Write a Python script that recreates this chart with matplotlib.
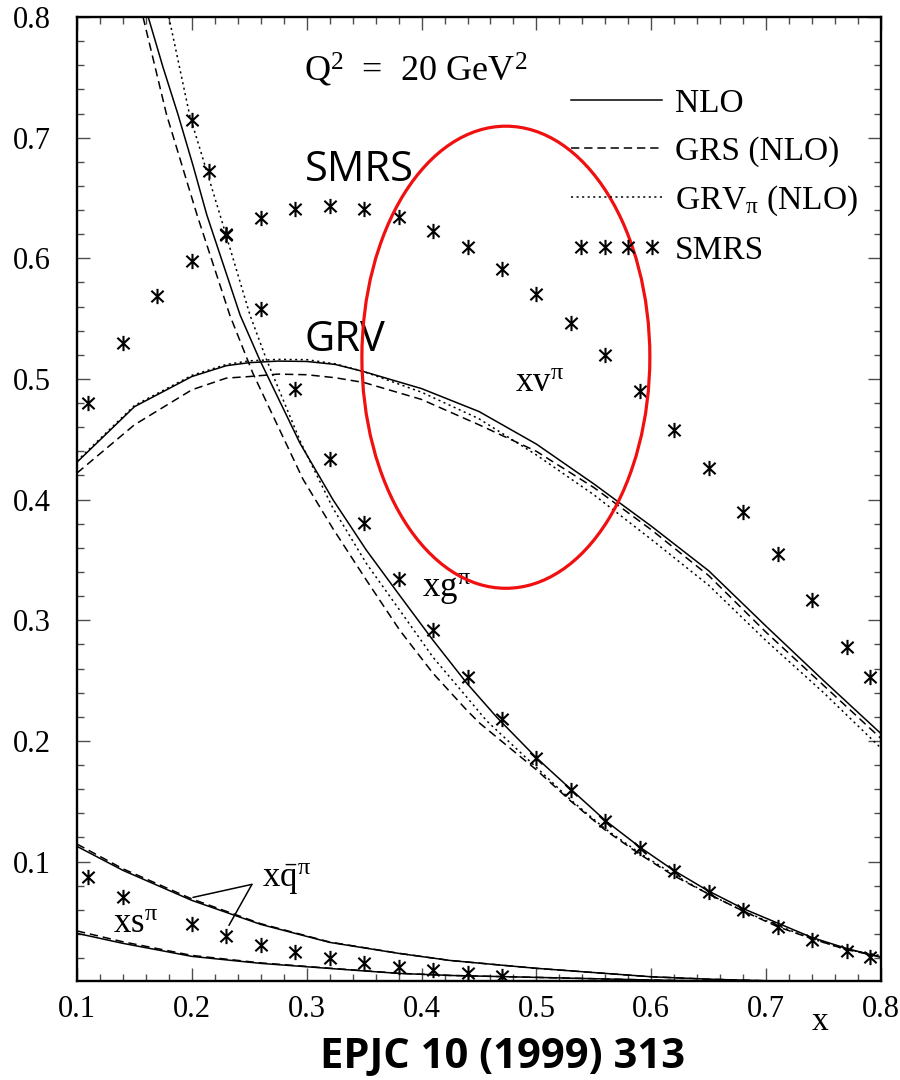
import matplotlib
matplotlib.use("Agg")
import matplotlib.pyplot as plt
from matplotlib.patches import Ellipse
from matplotlib.path import Path
from matplotlib.ticker import MultipleLocator
from matplotlib.legend_handler import HandlerLine2D

plt.rcParams['font.family'] = ['Liberation Serif', 'DejaVu Serif']
plt.rcParams['mathtext.fontset'] = 'custom'
plt.rcParams['mathtext.rm'] = 'Liberation Serif'
plt.rcParams['mathtext.it'] = 'Liberation Serif:italic'
plt.rcParams['lines.scale_dashes'] = False

# valence xv^pi
x_val = [0.10, 0.15, 0.20, 0.23, 0.25, 0.275, 0.30, 0.325, 0.35, 0.40, 0.45, 0.50, 0.55, 0.60, 0.65, 0.70, 0.75, 0.80]
val_nlo = [0.431, 0.477, 0.502, 0.511, 0.5135, 0.5148, 0.5145, 0.512, 0.506, 0.492, 0.473, 0.446, 0.413, 0.378, 0.341, 0.295, 0.250, 0.206]
val_grs = [0.422, 0.462, 0.491, 0.5007, 0.502, 0.504, 0.5035, 0.501, 0.497, 0.483, 0.462, 0.440, 0.410, 0.375, 0.337, 0.290, 0.246, 0.202]
val_grv = [0.432, 0.478, 0.503, 0.512, 0.515, 0.5162, 0.516, 0.5125, 0.506, 0.489, 0.467, 0.437, 0.404, 0.367, 0.329, 0.283, 0.240, 0.194]

# gluon xg^pi, each curve with its own x points (steep part)
x_glu_nlo = [0.162, 0.175, 0.188, 0.201, 0.213, 0.242, 0.259, 0.2941, 0.3228, 0.352, 0.381, 0.410,
             0.4394, 0.4655, 0.500, 0.531, 0.560, 0.590, 0.619, 0.649, 0.680, 0.710, 0.740, 0.770, 0.800]
glu_nlo = [0.800, 0.758, 0.719, 0.677, 0.636, 0.553, 0.516, 0.4468, 0.400, 0.358, 0.3205, 0.2834,
           0.2478, 0.2196, 0.186, 0.159, 0.134, 0.112, 0.093, 0.076, 0.061, 0.049, 0.037, 0.028, 0.0206]
x_glu_grs = [0.1575, 0.178, 0.2045, 0.233, 0.253, 0.2967, 0.3228, 0.352, 0.381, 0.410, 0.4394, 0.4507,
             0.500, 0.530, 0.560, 0.590, 0.620, 0.650, 0.680, 0.710, 0.740, 0.770, 0.800]
glu_grs = [0.800, 0.719, 0.636, 0.553, 0.505, 0.417, 0.376, 0.3332, 0.2917, 0.256, 0.2254, 0.2146,
           0.176, 0.150, 0.126, 0.106, 0.088, 0.073, 0.059, 0.046, 0.036, 0.027, 0.021]
x_glu_grv = [0.180, 0.198, 0.2245, 0.2506, 0.265, 0.295, 0.3228, 0.352, 0.381, 0.410, 0.4394, 0.4568,
             0.500, 0.530, 0.560, 0.590, 0.620, 0.650, 0.680, 0.710, 0.740, 0.770, 0.800]
glu_grv = [0.800, 0.719, 0.636, 0.553, 0.516, 0.447, 0.393, 0.347, 0.3083, 0.2693, 0.2362, 0.2165,
           0.178, 0.151, 0.127, 0.107, 0.089, 0.073, 0.059, 0.047, 0.036, 0.027, 0.022]

# sea xqbar^pi and strange xs^pi
x_sea = [0.10, 0.14, 0.20, 0.26, 0.32, 0.38, 0.425, 0.50, 0.60, 0.65, 0.70, 0.80]
sea_nlo = [0.1126, 0.0927, 0.0678, 0.0479, 0.0330, 0.0239, 0.0180, 0.0115, 0.0045, 0.0025, 0.0012, 0.0004]
sea_grs = [0.1145, 0.0940, 0.0690, 0.0485, 0.0333, 0.0240, 0.0180, 0.0115, 0.0045, 0.0025, 0.0012, 0.0004]
str_nlo = [0.0405, 0.0322, 0.0214, 0.0156, 0.0114, 0.0073, 0.0056, 0.0040, 0.0018, 0.0010, 0.0006, 0.0002]
str_grs = [0.0425, 0.0335, 0.0222, 0.0160, 0.0116, 0.0074, 0.0056, 0.0040, 0.0018, 0.0010, 0.0006, 0.0002]

# SMRS points
x_smrs_v = [0.11, 0.14, 0.17, 0.20, 0.23, 0.26, 0.29, 0.32, 0.35, 0.38, 0.41, 0.44,
            0.47, 0.50, 0.53, 0.56, 0.59, 0.62, 0.65, 0.68, 0.71, 0.74, 0.77, 0.79]
smrs_v = [0.480, 0.530, 0.569, 0.598, 0.619, 0.633, 0.641, 0.643, 0.641, 0.634, 0.623, 0.609,
          0.591, 0.570, 0.546, 0.520, 0.490, 0.458, 0.426, 0.390, 0.355, 0.317, 0.278, 0.253]
x_smrs_g = [0.20, 0.215, 0.23, 0.26, 0.29, 0.32, 0.35, 0.38, 0.41, 0.44, 0.47,
            0.50, 0.53, 0.56, 0.59, 0.62, 0.65, 0.68, 0.71, 0.74, 0.77, 0.79]
smrs_g = [0.715, 0.672, 0.620, 0.558, 0.492, 0.434, 0.381, 0.334, 0.292, 0.253, 0.218,
          0.186, 0.159, 0.134, 0.111, 0.092, 0.075, 0.060, 0.046, 0.035, 0.026, 0.0205]
x_smrs_s = [0.11, 0.14, 0.20, 0.23, 0.26, 0.29, 0.32, 0.35, 0.38, 0.41, 0.44, 0.47]
smrs_s = [0.087, 0.071, 0.048, 0.038, 0.031, 0.0247, 0.0203, 0.0156, 0.0123, 0.0098, 0.0073, 0.0048]

# highlighted region (center, width, height in data units)
ell_center = (0.4734, 0.518)
ell_w, ell_h = 0.2507, 0.383

LW = 1.1
DASH = (6, 3.5)
DOT = (1.5, 2.5)

# asterisk: vertical bar plus a diagonal cross
AST = Path([(0, -1), (0, 1), (-0.8, -0.75), (0.8, 0.75), (-0.8, 0.75), (0.8, -0.75)],
           [Path.MOVETO, Path.LINETO, Path.MOVETO, Path.LINETO, Path.MOVETO, Path.LINETO])
mk = dict(ls='none', marker=AST, ms=11, mew=1.5, color='k')

fig = plt.figure(figsize=(9, 10.8), dpi=100)
ax = fig.add_axes([77 / 900, 99 / 1080, 804 / 900, 964 / 1080])

l_nlo, = ax.plot(x_val, val_nlo, color='k', lw=LW, label='NLO')
l_grs, = ax.plot(x_val, val_grs, color='k', lw=LW, dashes=DASH, label='GRS (NLO)')
l_grv, = ax.plot(x_val, val_grv, color='k', lw=LW, dashes=DOT, label=r'GRV$_{\mathrm{\pi}}$ (NLO)')

ax.plot(x_glu_nlo, glu_nlo, color='k', lw=LW)
ax.plot(x_glu_grs, glu_grs, color='k', lw=LW, dashes=DASH)
ax.plot(x_glu_grv, glu_grv, color='k', lw=LW, dashes=DOT)

ax.plot(x_sea, sea_nlo, color='k', lw=LW)
ax.plot(x_sea, sea_grs, color='k', lw=LW, dashes=DASH)
ax.plot(x_sea, str_nlo, color='k', lw=LW)
ax.plot(x_sea, str_grs, color='k', lw=LW, dashes=DASH)

l_smrs, = ax.plot(x_smrs_v, smrs_v, label='SMRS', **mk)
ax.plot(x_smrs_g, smrs_g, **mk)
ax.plot(x_smrs_s, smrs_s, **mk)

ax.add_patch(Ellipse(ell_center, ell_w, ell_h, fill=False, ec='#f01010', lw=2.3, zorder=5))

ax.set_xlim(0.1, 0.8)
ax.set_ylim(0.001, 0.8)
ax.xaxis.set_minor_locator(MultipleLocator(0.02))
ax.yaxis.set_minor_locator(MultipleLocator(0.02))
ax.set_yticks([0.1, 0.2, 0.3, 0.4, 0.5, 0.6, 0.7, 0.8])
ax.set_yticklabels(['0.1', '0.2', '0.3', '0.4', '0.5', '0.6', '0.7', '0.8'])
ax.set_xticks([0.1, 0.2, 0.3, 0.4, 0.5, 0.6, 0.7, 0.8])
ax.set_xticklabels(['0.1', '0.2', '0.3', '0.4', '0.5', '0.6', '0.7', '0.8'])
ax.tick_params(which='both', direction='in', top=True, right=True, color='0.3', width=1.0)
ax.tick_params(which='major', length=9.5)
ax.tick_params(which='minor', length=5)
ax.tick_params(axis='y', which='major', labelsize=22, pad=19)
ax.tick_params(axis='x', which='major', labelsize=22, pad=10)
for s in ax.spines.values():
    s.set_linewidth(1.7)

ax.text(0.298, 0.756, r'Q$^{2}$  =  20 GeV$^{2}$', fontsize=26, va='center')
ax.text(0.298, 0.673, 'SMRS', fontsize=30, family='Open Sans', va='center')
ax.text(0.298, 0.532, 'GRV', fontsize=30, family='Open Sans', va='center')
ax.text(0.481, 0.489, r'xv$^{\mathrm{\pi}}$', fontsize=25, va='baseline')
ax.text(0.4003, 0.319, r'xg$^{\mathrm{\pi}}$', fontsize=25, va='baseline')
ax.text(0.261, 0.0786, r'x$\bar{\mathrm{q}}^{\mathrm{\pi}}$', fontsize=25, va='baseline')
ax.text(0.1313, 0.0405, r'xs$^{\mathrm{\pi}}$', fontsize=25, va='baseline')

# pointer lines from the xqbar label to both sea curves
ax.annotate('', xy=(0.201, 0.0703), xytext=(0.2523, 0.0811),
            arrowprops=dict(arrowstyle='-', color='k', lw=1.1, shrinkA=0, shrinkB=0))
ax.annotate('', xy=(0.2323, 0.0471), xytext=(0.2523, 0.0811),
            arrowprops=dict(arrowstyle='-', color='k', lw=1.1, shrinkA=0, shrinkB=0))

ax.legend(handles=[l_nlo, l_grs, l_grv, l_smrs], loc='upper left',
          bbox_to_anchor=(0.6144, 0.926), frameon=False, fontsize=24,
          numpoints=1, handler_map={l_smrs: HandlerLine2D(numpoints=4)},
          handlelength=2.73, handletextpad=0.39,
          borderpad=0, borderaxespad=0, labelspacing=0.51)

fig.text(820 / 900, 1 - 1022 / 1080, 'x', fontsize=24, ha='center', va='center')
fig.text(503 / 900, 1 - 1057 / 1080, 'EPJC 10 (1999) 313', fontsize=30,
         family='Open Sans', weight='bold', ha='center', va='center')

fig.savefig('out.png', dpi=100)
